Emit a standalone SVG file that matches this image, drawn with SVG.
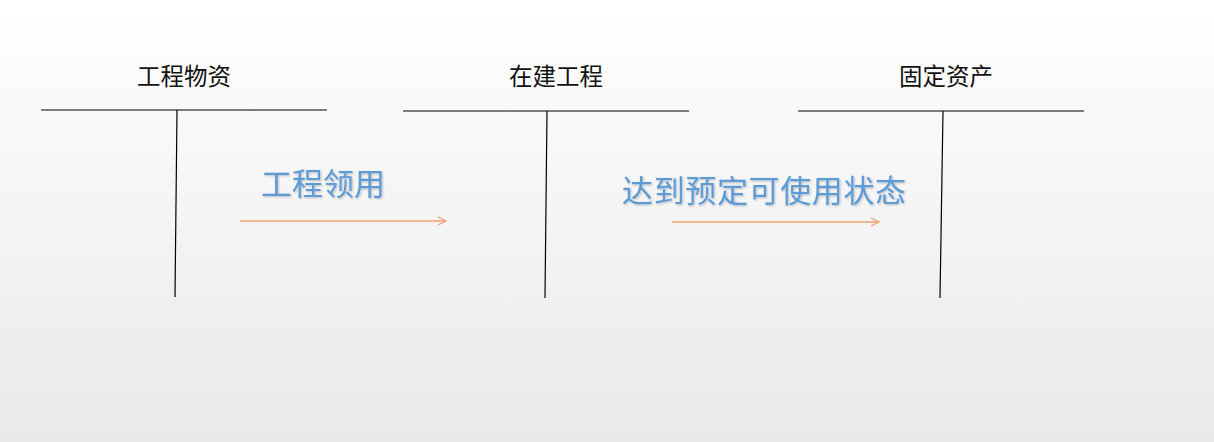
<svg xmlns="http://www.w3.org/2000/svg" width="1214" height="442" viewBox="0 0 1214 442">
<defs>
<linearGradient id="bg" x1="0" y1="0" x2="0" y2="1">
<stop offset="0" stop-color="#ffffff"/>
<stop offset="1" stop-color="#e9e9e9"/>
</linearGradient>
<marker id="ah" markerWidth="10" markerHeight="10" refX="9" refY="5" orient="auto" markerUnits="userSpaceOnUse">
<path d="M1,1 L9,5 L1,9" fill="none" stroke="#f0a070" stroke-width="1.2"/>
</marker>
<filter id="sh" x="-10%" y="-10%" width="120%" height="130%">
<feDropShadow dx="1" dy="1" stdDeviation="0.8" flood-color="#000" flood-opacity="0.25"/>
</filter>
</defs>
<style>
.title{font-family:"Noto Sans CJK SC","Noto Sans",sans-serif;font-size:23.5px;fill:#111;text-anchor:middle}
.lbl{font-family:"Noto Sans CJK SC","Noto Sans",sans-serif;font-size:31px;fill:#5b9bd5;filter:url(#sh)}
.acc{stroke:#000;stroke-width:1.2;fill:none}
.arr{stroke:#f0a070;stroke-width:1.3;fill:none;marker-end:url(#ah)}
</style>
<rect width="1214" height="442" fill="url(#bg)"/>
<g id="acc-gcwz">
<text class="title" x="184" y="85">工程物资</text>
<line class="acc" x1="41" y1="110" x2="327" y2="110"/>
<line class="acc" x1="177" y1="110" x2="175" y2="297"/>
</g>
<g id="acc-zjgc">
<text class="title" x="556" y="85">在建工程</text>
<line class="acc" x1="403" y1="111" x2="689" y2="111"/>
<line class="acc" x1="547" y1="111" x2="545" y2="298"/>
</g>
<g id="acc-gdzc">
<text class="title" x="946" y="85">固定资产</text>
<line class="acc" x1="798" y1="111" x2="1084" y2="111"/>
<line class="acc" x1="943" y1="111" x2="940" y2="298"/>
</g>
<g id="connectors">
<line class="arr" x1="240" y1="221" x2="446" y2="221"/>
<line class="arr" x1="672" y1="222" x2="879" y2="222"/>
</g>
<g id="labels">
<text class="lbl" x="261" y="195">工程领用</text>
<text class="lbl" x="622" y="202" textLength="284">达到预定可使用状态</text>
</g>
</svg>
